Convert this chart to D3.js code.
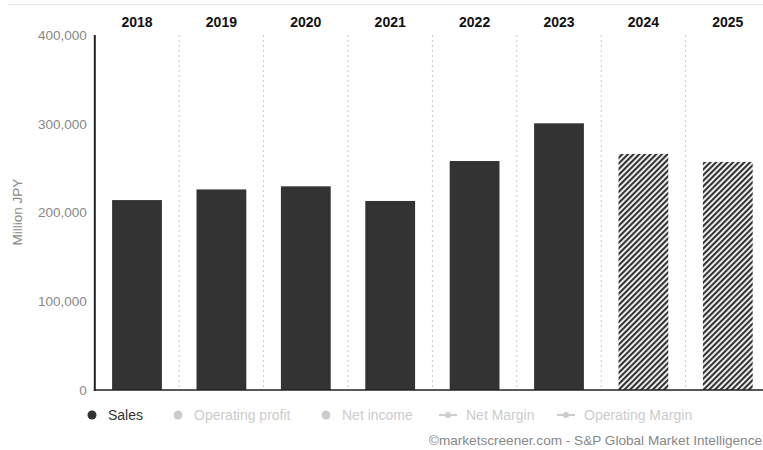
<!DOCTYPE html>
<html><head><meta charset="utf-8">
<script src="https://cdn.jsdelivr.net/npm/d3@7"></script>
<style>body{margin:0;background:#fff;font-family:Arial,"Liberation Sans",sans-serif}</style>
</head><body>
<svg id="c" width="763" height="450"></svg>
<script>
const years = ["2018","2019","2020","2021","2022","2023","2024","2025"];
const sales = [214000, 226000, 229500, 213000, 258000, 300500, 266000, 257000];
const forecast = [false,false,false,false,false,false,true,true];
const yTicks = [0,100000,200000,300000,400000];
const legendItems = [
  {name:"Sales", type:"dot", active:true},
  {name:"Operating profit", type:"dot", active:false},
  {name:"Net income", type:"dot", active:false},
  {name:"Net Margin", type:"line", active:false},
  {name:"Operating Margin", type:"line", active:false}
];
const credit = "©marketscreener.com - S&P Global Market Intelligence";

const svg = d3.select("#c");
const defs = svg.append("defs");
const pat = defs.append("pattern").attr("id","hatch").attr("patternUnits","userSpaceOnUse")
  .attr("width",4).attr("height",4).attr("patternTransform","rotate(45)");
pat.append("rect").attr("width",4).attr("height",4).attr("fill","#fff");
pat.append("rect").attr("width",2.2).attr("height",4).attr("fill","#333");

const x0 = 94.8, x1 = 770, yTop = 35, yBot = 390;
const x = d3.scaleBand().domain(years).range([x0, x1]).paddingInner(0.41).paddingOuter(0.205);
const xb = d3.scaleBand().domain(years).range([x0, x1]);
const y = d3.scaleLinear().domain([0,400000]).range([yBot, yTop]);

// top border line
svg.append("line").attr("x1",8).attr("x2",763).attr("y1",4.5).attr("y2",4.5).attr("stroke","#e6e6e6");

// separators
svg.append("g").selectAll("line").data(years.slice(1)).join("line")
  .attr("x1",d=>xb(d)).attr("x2",d=>xb(d)).attr("y1",yTop).attr("y2",yBot)
  .attr("stroke","#c8c8c8").attr("stroke-dasharray","2,3");

// bars
svg.append("g").selectAll("rect").data(years).join("rect")
  .attr("x",d=>x(d)).attr("width",x.bandwidth())
  .attr("y",(d,i)=>y(sales[i])).attr("height",(d,i)=>yBot-y(sales[i]))
  .attr("fill",(d,i)=>forecast[i]?"url(#hatch)":"#333");

// y axis
const ya = d3.axisLeft(y).tickValues(yTicks).tickFormat(d3.format(",")).tickSize(0).tickPadding(8);
const g = svg.append("g").attr("transform",`translate(${x0},0)`).call(ya);
g.select(".domain").remove();
g.selectAll("text").attr("fill","#888").attr("font-size",13.5).attr("font-family","Arial,'Liberation Sans',sans-serif");
svg.append("line").attr("x1",x0).attr("x2",x0).attr("y1",yTop).attr("y2",yBot+1).attr("stroke","#222").attr("stroke-width",2);
svg.append("line").attr("x1",x0-1).attr("x2",763).attr("y1",yBot).attr("y2",yBot).attr("stroke","#222").attr("stroke-width",1.5);

// top axis year labels
const xa = d3.axisTop(xb).tickSize(0).tickPadding(0);
const gt = svg.append("g").attr("transform",`translate(0,27)`).call(xa);
gt.select(".domain").remove();
gt.selectAll("text").attr("fill","#111").attr("font-size",14).attr("font-weight","bold").attr("font-family","Arial,'Liberation Sans',sans-serif");

// y title
svg.append("text").attr("transform",`translate(22,212) rotate(-90)`).attr("text-anchor","middle")
  .attr("fill","#888").attr("font-size",13.5).text("Million JPY");

// legend
const lx = [92, 178, 326, 448, 566];
const lg = svg.append("g");
legendItems.forEach((d,i)=>{
  const c = d.active ? "#333" : "#ccc";
  const tc = d.active ? "#333" : "#ccc";
  const gg = lg.append("g").attr("transform",`translate(${lx[i]},415)`);
  if(d.type==="dot"){
    gg.append("circle").attr("r",4.5).attr("fill",c);
    gg.append("text").attr("x",16).attr("y",5).attr("font-size",14).attr("fill",tc).text(d.name);
  } else {
    gg.append("line").attr("x1",-9).attr("x2",9).attr("stroke",c).attr("stroke-width",2);
    gg.append("circle").attr("r",3).attr("fill",c);
    gg.append("text").attr("x",18).attr("y",5).attr("font-size",14).attr("fill",tc).text(d.name);
  }
});

svg.append("text").attr("x",762).attr("y",445).attr("text-anchor","end").attr("font-size",13.6)
  .attr("fill","#888").text(credit);
</script>
</body></html>
